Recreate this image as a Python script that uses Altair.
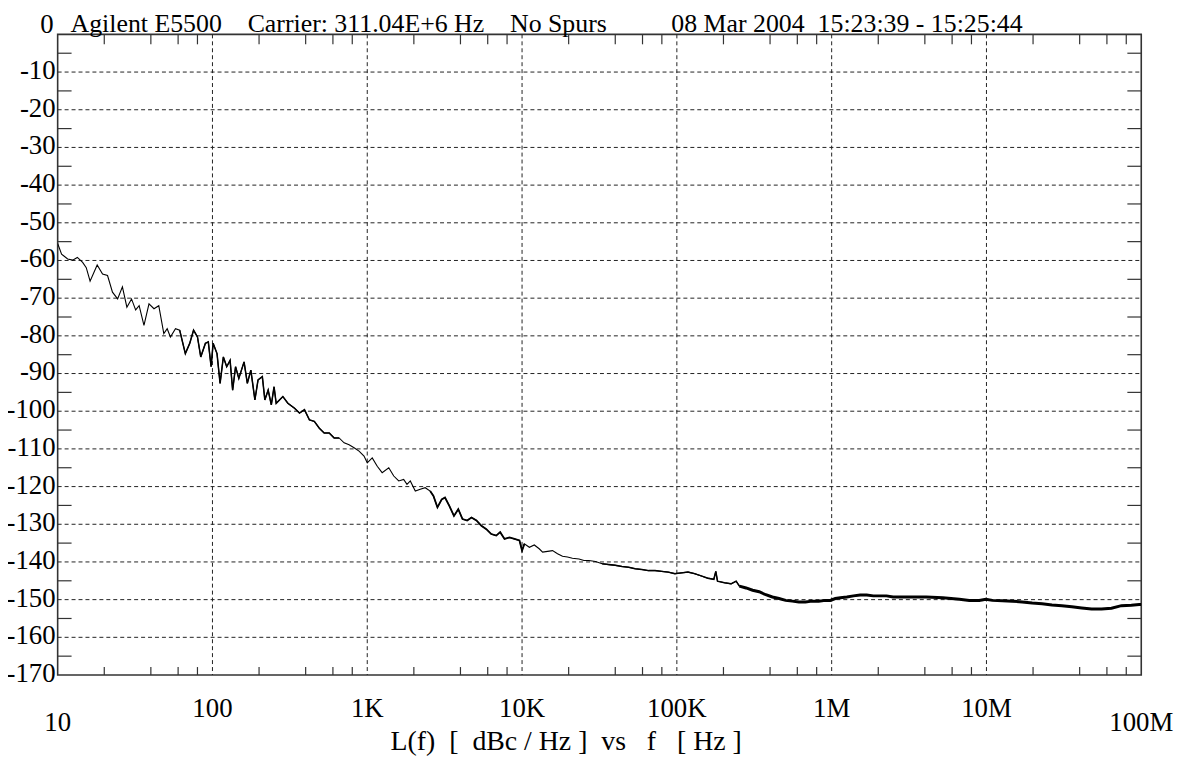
import altair as alt
import pandas as pd

# ---- data ----
freq_hz = [
    10, 10.6, 11.6, 12.5, 13.4, 14.5, 15.3, 16.2, 18, 19.5, 21, 22.6, 24.4, 26.2, 28, 30,
    31.9, 33.6, 36.1, 38.9, 41.9, 45, 48.5, 51, 53.5, 57.7, 61.4, 66.8, 71.3, 75.5, 80, 84,
    90, 94, 98, 101, 107, 112, 117.6, 123.6, 130, 135, 141, 148, 160, 168, 177, 188, 197,
    210, 218, 229, 240, 250, 258, 285, 307, 339, 365, 393, 423, 455, 490, 527, 568, 611,
    658, 709, 763, 822, 885, 953, 1000, 1077, 1160, 1248, 1377, 1483, 1597, 1719, 1805,
    1897, 2043, 2200, 2367, 2549, 2677, 2840, 3027, 3178, 3389, 3631, 3872, 4124, 4421,
    4713, 5074, 5464, 5878, 6324, 6808, 7222, 7704, 8296, 8933, 9620, 10000, 10350, 11150,
    12000, 12900, 13580, 14620, 15740, 16950, 18250, 19650, 21150, 23330, 25120, 27040,
    29800, 32890, 36300, 40060, 44200, 48800, 53800, 59400, 65500, 72300, 79800, 88000,
    97100, 107000, 118000, 130000, 143800, 158500, 173300, 178500, 183000, 203000, 224000,
    241500, 253500, 280000, 308500, 340000, 375500, 414000, 457000, 504500, 556000, 614000,
    677000, 747000, 825000, 910000, 980000, 1056000, 1138000, 1254000, 1383000, 1527000,
    1684000, 1858000, 2050000, 2261000, 2494000, 2752000, 3038000, 3355000, 4080000,
    5224000, 6683000, 7745000, 8978000, 9908000, 10920000, 12670000, 14690000, 17030000,
    19740000, 22880000, 26510000, 30710000, 35590000, 41240000, 47780000, 55400000,
    64200000, 74400000, 86300000, 97000000, 100000000,
]
level_dbc = [
    -55.5, -58.3, -59.6, -59.9, -59.2, -60.5, -61.9, -65.5, -61.2, -63.6, -64.0, -68.4, -70.2,
    -67.0, -72.4, -70.2, -73.1, -72.0, -77.2, -71.5, -72.8, -72.0, -79.4, -78.1, -80.3, -78.1,
    -78.5, -84.7, -82.0, -78.5, -80.3, -85.6, -82.0, -81.6, -88.2, -82.0, -84.7, -92.6, -85.6,
    -88.2, -86.5, -94.4, -88.2, -91.3, -86.9, -92.6, -89.1, -97.0, -91.7, -90.8, -97.0, -94.4,
    -98.3, -93.5, -97.9, -96.1, -97.9, -99.2, -100.5, -99.6, -102.3, -102.7, -104.5, -105.8,
    -105.8, -107.1, -107.1, -108.4, -108.9, -109.7, -110.6, -111.9, -113.7, -112.4, -114.6,
    -116.3, -115.0, -117.2, -118.5, -118.1, -119.4, -118.5, -121.2, -120.7, -120.3, -121.2,
    -122.5, -125.5, -123.4, -122.9, -125.1, -127.8, -126.0, -128.6, -129.0, -128.2, -129.0,
    -130.4, -131.3, -132.6, -133.0, -132.1, -133.9, -133.5, -133.9, -134.3, -137.0, -135.2,
    -136.1, -135.5, -136.5, -137.4, -137.2, -137.0, -137.8, -138.5, -138.7, -139.0, -139.2,
    -139.6, -139.6, -139.9, -140.5, -140.7, -140.9, -141.2, -141.4, -141.8, -142.0, -142.3,
    -142.3, -142.5, -142.7, -143.1, -142.9, -142.7, -143.1, -143.7, -144.3, -144.6, -142.5,
    -145.1, -145.5, -145.8, -145.1, -146.4, -146.9, -147.5, -147.9, -148.7, -149.3, -149.7,
    -150.2, -150.4, -150.6, -150.6, -150.4, -150.4, -150.2, -150.2, -149.7, -149.5, -149.3,
    -149.0, -148.8, -148.8, -149.0, -149.0, -149.0, -149.3, -149.3, -149.3, -149.3, -149.3,
    -149.5, -149.9, -150.2, -150.2, -149.9, -150.2, -150.3, -150.4, -150.6, -150.9, -151.1,
    -151.4, -151.6, -151.9, -152.2, -152.5, -152.5, -152.3, -151.6, -151.5, -151.3, -151.3,
]

x_decades = [10, 100, 1000, 10000, 100000, 1000000, 10000000, 100000000]
x_labels = ["10", "100", "1K", "10K", "100K", "1M", "10M", "100M"]
x_minor = [m * 10 ** d for d in range(1, 8) for m in (2, 4, 6, 8)]
y_major = list(range(-170, 1, 10))
y_minor = list(range(-165, 0, 10))

NB = "\u00a0"
title_text = ("Agilent E5500" + NB * 4 + "Carrier: 311.04E+6 Hz" + NB * 4 + "No Spurs"
              + NB * 10 + "08 Mar 2004" + NB * 2 + "15:23:39 - 15:25:44")
x_title = ("L(f)" + NB * 2 + "[" + NB * 2 + "dBc / Hz ]" + NB * 2 + "vs" + NB * 3
           + "f" + NB * 3 + "[ Hz ]")

W, H = 1091, 645
FONT = "Liberation Serif"
INK = "black"
GRID = "#222"
TICK = "#333"

trace = pd.DataFrame({"f": freq_hz, "L": level_dbc})
xm = pd.DataFrame({"f": x_minor})
ym = pd.DataFrame({"v": y_minor})
xg = pd.DataFrame({"f": x_decades[1:-1]})
yg = pd.DataFrame({"v": y_major[1:-1]})
yl = pd.DataFrame({"v": y_major, "lab": [str(v) for v in y_major]})
xl = pd.DataFrame({"f": x_decades, "lab": x_labels})
xl_mid = xl.iloc[1:-1]
xl_end = xl.iloc[[0, -1]]

xscale = alt.Scale(type="log", domain=[10, 1e8], nice=False)
yscale = alt.Scale(domain=[-170, 0], nice=False, zero=False)
X = lambda f: alt.X(f, type="quantitative", scale=xscale, axis=None)
Y = lambda f: alt.Y(f, type="quantitative", scale=yscale, axis=None)

grid_x = alt.Chart(xg).mark_rule(color=GRID, strokeWidth=1, strokeDash=[4, 3]).encode(
    x=X("f"), y=alt.value(0), y2=alt.value(H))
grid_y = alt.Chart(yg).mark_rule(color=GRID, strokeWidth=1, strokeDash=[4, 3]).encode(
    y=Y("v"), x=alt.value(0), x2=alt.value(W))


def trace_part(expr, width):
    ch = alt.Chart(trace)
    if expr:
        ch = ch.transform_filter(expr)
    return ch.mark_line(color=INK, strokeWidth=width, clip=True).encode(
        x=X("f"), y=Y("L"), order="f:Q")


line_main = trace_part(None, 1.1)
line_a = trace_part("datum.f >= 60 && datum.f <= 700", 1.5)
line_b = trace_part("datum.f >= 2500 && datum.f <= 11000", 1.8)
line_c = trace_part("datum.f >= 30000 && datum.f <= 260000", 1.5)
line_d = trace_part("datum.f >= 250000", 3)

x_bot = alt.Chart(xm).mark_rule(color=TICK, strokeWidth=1.2).encode(
    x=X("f"), y=alt.value(H - 8), y2=alt.value(H))
x_top = alt.Chart(xm).mark_rule(color=TICK, strokeWidth=1.2).encode(
    x=X("f"), y=alt.value(0), y2=alt.value(10))
y_left = alt.Chart(ym).mark_rule(color=TICK, strokeWidth=1.2).encode(
    y=Y("v"), x=alt.value(0), x2=alt.value(14))
y_right = alt.Chart(ym).mark_rule(color=TICK, strokeWidth=1.2).encode(
    y=Y("v"), x=alt.value(W - 14), x2=alt.value(W))

y_labels = alt.Chart(yl).transform_filter("datum.v < 0").mark_text(
    font=FONT, fontSize=27, color=INK, align="right", baseline="alphabetic", dy=7
).encode(y=Y("v"), x=alt.value(-2), text="lab:N")
y_zero = alt.Chart(yl).transform_filter("datum.v == 0").mark_text(
    font=FONT, fontSize=27, color=INK, align="right", baseline="alphabetic", dy=-1
).encode(y=Y("v"), x=alt.value(-4), text="lab:N")
lab_mid = alt.Chart(xl_mid).mark_text(font=FONT, fontSize=27, color=INK,
                                      align="center", baseline="alphabetic").encode(
    x=X("f"), y=alt.value(H + 42), text="lab:N")
lab_end = alt.Chart(xl_end).mark_text(font=FONT, fontSize=27, color=INK,
                                      align="center", baseline="alphabetic").encode(
    x=X("f"), y=alt.value(H + 56), text="lab:N")

head = alt.Chart(pd.DataFrame({"t": [title_text]})).mark_text(
    font=FONT, fontSize=26, color=INK, align="left", baseline="alphabetic"
).encode(x=alt.value(13), y=alt.value(-2), text="t:N")
foot = alt.Chart(pd.DataFrame({"t": [x_title]})).mark_text(
    font=FONT, fontSize=28, color=INK, align="center", baseline="alphabetic"
).encode(x=alt.value(512), y=alt.value(H + 76), text="t:N")

chart = alt.layer(grid_x, grid_y, line_main, line_a, line_b, line_c, line_d,
                  x_bot, x_top, y_left, y_right, y_labels, y_zero,
                  lab_mid, lab_end, head, foot).properties(
    width=W, height=H,
    autosize=alt.AutoSizeParams(type="none"),
    padding={"left": 50, "top": 24, "right": 38, "bottom": 80},
).configure_view(stroke="#333", strokeWidth=1.6)

chart.save("out.html", embed_options={"renderer": "svg", "actions": False})
